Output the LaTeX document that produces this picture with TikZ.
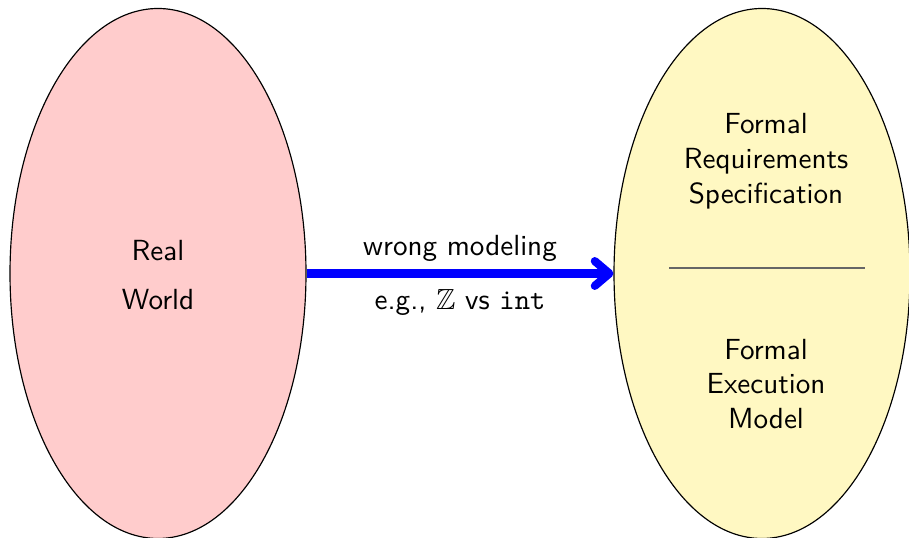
\documentclass[tikz,border=0pt]{standalone}
\usepackage{amssymb}
\usetikzlibrary{shapes.geometric,arrows.meta}
\definecolor{realfill}{RGB}{255,204,204}
\definecolor{formfill}{RGB}{255,248,194}
\begin{document}
\begin{tikzpicture}[x=0.3436pt,y=-0.3436pt,
  blob/.style={ellipse,draw=black,line width=0.4pt,minimum width=101.7pt,minimum height=182.1pt,inner sep=0pt},
  lbl/.style={font=\sffamily,align=center,inner sep=0pt,text=black},
  bigarrow/.style={blue,line width=2.8pt,-{Straight Barb[round,length=5pt,width=8.5pt]}}]
\useasboundingbox (0,0) rectangle (909,538);
\node[blob,fill=realfill] (real) at (158,273.5) {};
\node[blob,fill=formfill] (formal) at (762,273.5) {};
\node[lbl] (realtxt) at (158,275) {Real\\[5pt]World};
\node[lbl] (req) at (766,161) {Formal\\Requirements\\Specification};
\node[lbl] (exec) at (766,384) {Formal\\Execution\\Model};
\coordinate (sepL) at (669,268);
\coordinate (sepR) at (865,268);
\draw[line width=0.35pt,black!60] (sepL) -- (sepR);
\draw[bigarrow] (real.east) -- (formal.west)
  node[midway,above=2.8pt,lbl] (wm) {wrong modeling}
  node[midway,below=4.2pt,lbl] (eg) {e.g., $\mathbb{Z}$ vs \texttt{int}};
\end{tikzpicture}
\end{document}
